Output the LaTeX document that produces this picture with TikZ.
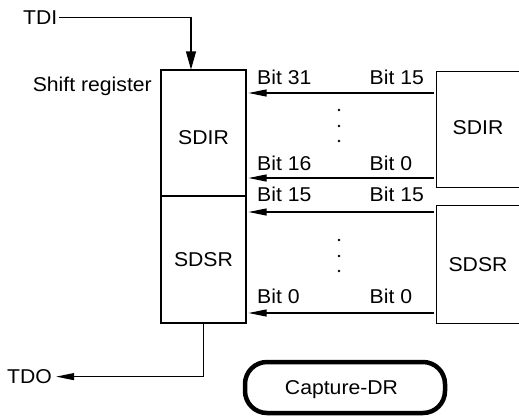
\documentclass[tikz,border=0pt]{standalone}
\usepackage{fontspec}
\setmainfont{Liberation Sans}[FakeStretch=1.06]
\usetikzlibrary{arrows.meta}
\begin{document}
\begin{tikzpicture}[x=1pt,y=-1pt,
  lbl/.style={inner sep=0pt, font=\fontsize{20}{24}\selectfont},
  regbox/.style={draw, line width=1.1pt, inner sep=0pt, font=\fontsize{20}{24}\selectfont},
  openbox/.style={inner sep=0pt, font=\fontsize{20}{24}\selectfont},
  sig/.style={draw, line width=1.1pt, -{Triangle[length=18pt,width=7pt]}},
  bus/.style={sig, shorten <=3pt, shorten >=2pt},
  capbox/.style={draw, line width=4.5pt, rounded corners=22pt, inner sep=0pt,
    minimum width=200pt, minimum height=51pt, text depth=0pt,
    font=\fontsize{20}{24}\selectfont},
]
\useasboundingbox (0,0) rectangle (519,416);

% left shift register
\node[regbox, minimum width=85pt, minimum height=126pt, text height=22pt, text depth=0pt] (sdirbox) at (203.5,133) {SDIR};
\node[regbox, minimum width=85pt, minimum height=127pt] (sdsrbox) at (203.5,259.5) {SDSR};
\node[lbl, anchor=base east] (shreg) at (152,91.7) {Shift register};

% right registers (open on the right)
\node[openbox, minimum width=82pt, minimum height=115pt, text height=9pt, text depth=0pt] (rsdir) at (478,129.5) {SDIR};
\node[openbox, minimum width=82pt, minimum height=117pt] (rsdsr) at (478,264.5) {SDSR};
\draw[line width=1.1pt] (rsdir.north east) -- (rsdir.north west) -- (rsdir.south west) -- (rsdir.south east);
\draw[line width=1.1pt] (rsdsr.north east) -- (rsdsr.north west) -- (rsdsr.south west) -- (rsdsr.south east);

% bit labels
\node[lbl, anchor=base west] (l31) at (257,84) {Bit 31};
\node[lbl, anchor=base west] (r15a) at (369.5,84) {Bit 15};
\node[lbl, anchor=base west] (l16) at (257,170) {Bit 16};
\node[lbl, anchor=base west] (r0a) at (369.5,170) {Bit 0};
\node[lbl, anchor=base west] (l15) at (257,201.7) {Bit 15};
\node[lbl, anchor=base west] (r15b) at (369.5,201.7) {Bit 15};
\node[lbl, anchor=base west] (l0) at (257,303) {Bit 0};
\node[lbl, anchor=base west] (r0b) at (369.5,303) {Bit 0};

% bus arrows
\draw[bus] (rsdir.west |- 0,93) -- (sdirbox.east |- 0,93);
\draw[bus] (rsdir.west |- 0,178) -- (sdirbox.east |- 0,178);
\draw[bus] (rsdsr.west |- 0,212) -- (sdsrbox.east |- 0,212);
\draw[bus] (rsdsr.west |- 0,313) -- (sdsrbox.east |- 0,313);

% dots
\foreach \y in {110,126,141,240,256,271} \fill (339,\y) circle (1.4pt);

% TDI / TDO
\node[lbl, anchor=base west] (tdi) at (23,24.3) {TDI};
\node[lbl, anchor=base west] (tdo) at (7,383.5) {TDO};
\draw[sig, shorten <=1.5pt, -{Triangle[length=18pt,width=10pt]}] (tdi.east) -| ([xshift=-12.5pt]sdirbox.north);
\draw[sig, shorten >=4pt] (sdsrbox.south) |- (tdo.east);

% Capture-DR
\node[capbox] (cap) at (345,387.5) {Capture-DR\hspace*{7pt}};
\end{tikzpicture}
\end{document}
